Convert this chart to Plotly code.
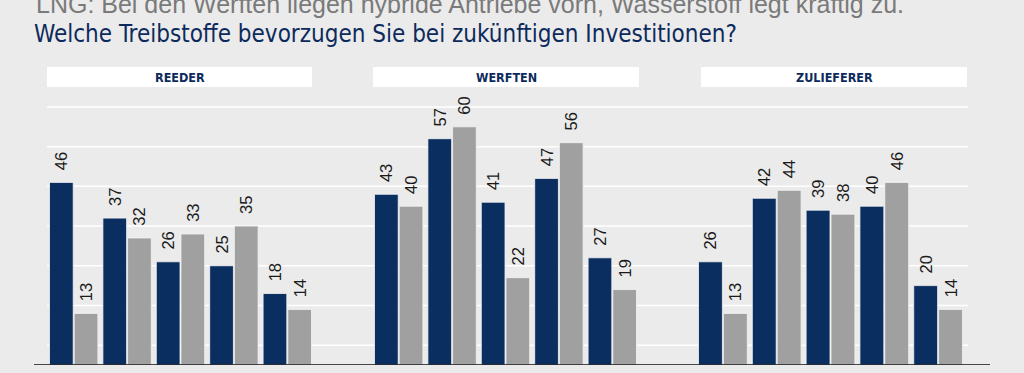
import plotly.graph_objects as go

# ---- data ----
categories = ["K1", "K2", "K3", "K4", "K5"]
panels = ["REEDER", "WERFTEN", "ZULIEFERER"]
series_names = ["Serie A", "Serie B"]
reeder_a = [46, 37, 26, 25, 18]
reeder_b = [13, 32, 33, 35, 14]
werften_a = [43, 57, 41, 47, 27]
werften_b = [40, 60, 22, 56, 19]
zulieferer_a = [26, 42, 39, 40, 20]
zulieferer_b = [13, 44, 38, 46, 14]
grid_values = [5, 15, 25, 35, 45, 55, 65]
subtitle_text = "LNG: Bei den Werften liegen hybride Antriebe vorn, Wasserstoff legt kräftig zu."
title_text = "Welche Treibstoffe bevorzugen Sie bei zukünftigen Investitionen?"

W, H = 1024, 373
NAVY = "#0b2e60"
GREY = "#a0a0a0"
BG = "#ebebeb"

def px(x):
    return x / W

def py(y):
    return (H - y) / H

panel_data = [(reeder_a, reeder_b), (werften_a, werften_b), (zulieferer_a, zulieferer_b)]
domains = [(47, 314), (372, 639), (696, 965)]
header_boxes = [(47, 312), (373, 639), (701, 967)]

fig = go.Figure()
for i, (a, b) in enumerate(panel_data):
    xa = "x" if i == 0 else f"x{i+1}"
    for vals, color, nm in [(a, NAVY, series_names[0]), (b, GREY, series_names[1])]:
        fig.add_trace(go.Bar(
            x=categories, y=vals, name=nm, xaxis=xa, yaxis="y",
            marker=dict(color=color, line=dict(color="#f4f4f4", width=0.8)),
            text=vals, texttemplate="\u00a0\u00a0%{y}", textposition="outside",
            textangle=-90, cliponaxis=False, constraintext="none",
            textfont=dict(family="Liberation Sans, Arial, sans-serif", size=16.5, color="#1a1a1a"),
            showlegend=False, hoverinfo="skip",
        ))

y_bottom = py(365)
y_top = py(365 - 70 * 3.97)

layout = dict(
    width=W, height=H,
    margin=dict(l=0, r=0, t=0, b=0),
    paper_bgcolor=BG, plot_bgcolor=BG,
    barmode="group", bargap=0.075, bargroupgap=0.04,
    yaxis=dict(range=[0, 70], domain=[y_bottom, y_top], showgrid=False,
               showticklabels=False, zeroline=False, showline=False, ticks=""),
)
for i, (d0, d1) in enumerate(domains):
    key = "xaxis" if i == 0 else f"xaxis{i+1}"
    layout[key] = dict(domain=[px(d0), px(d1)], showticklabels=False, ticks="",
                       showgrid=False, zeroline=False, showline=False,
                       anchor="y", type="category")
fig.update_layout(**layout)

# gridlines
for gv in grid_values:
    fig.add_shape(type="line", xref="paper", yref="y", x0=px(47), x1=px(968),
                  y0=gv, y1=gv, line=dict(color="white", width=1.5), layer="below")
# baseline
fig.add_shape(type="line", xref="paper", yref="y", x0=px(34), x1=px(990),
              y0=0, y1=0, line=dict(color="#111111", width=1.5), layer="above")

# panel headers
for (b0, b1), name in zip(header_boxes, panels):
    fig.add_shape(type="rect", xref="paper", yref="paper", x0=px(b0), x1=px(b1),
                  y0=py(87), y1=py(67), fillcolor="white", line=dict(width=0), layer="below")
    fig.add_annotation(x=px((b0 + b1) / 2), y=py(77.5), xref="paper", yref="paper",
                       text=f"<b>{name}</b>", showarrow=False, xanchor="center", yanchor="middle",
                       font=dict(family="DejaVu Sans Condensed, Liberation Sans Narrow, sans-serif",
                                 size=12.5, color="#0d2a5c"))

# top (cut) subtitle
fig.add_annotation(x=px(34), y=py(3.5), xref="paper", yref="paper", text=subtitle_text,
                   showarrow=False, xanchor="left", yanchor="middle",
                   font=dict(family="Liberation Sans, Arial, sans-serif", size=25, color="#7a7a7a"))
# title
fig.add_annotation(x=px(32), y=py(34), xref="paper", yref="paper", text=title_text,
                   showarrow=False, xanchor="left", yanchor="middle",
                   font=dict(family="DejaVu Sans Condensed, Liberation Sans Narrow, sans-serif",
                             size=24, color="#0d2a5c"))

fig.write_html("out.html", config={"displayModeBar": False},
               post_script="document.body.style.margin='0';document.body.style.overflow='hidden';")
